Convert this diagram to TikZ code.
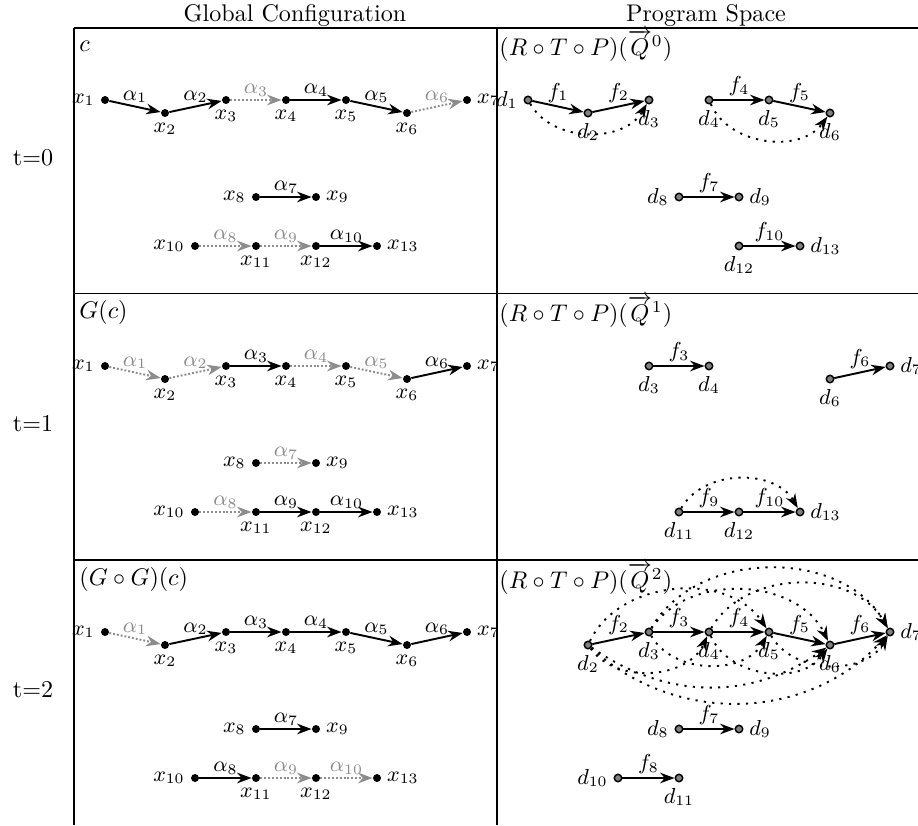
\documentclass[tikz,border=0pt]{standalone}
\usepackage{amsmath}
\usetikzlibrary{arrows.meta}

\begin{document}
\begin{tikzpicture}[
  x=0.415pt, y=0.415pt,
  gdot/.style={circle,fill=black,inner sep=0pt,minimum size=3.3pt},
  pdot/.style={circle,draw=black,fill=gray,line width=0.6pt,inner sep=0pt,minimum size=3.1pt},
  every label/.style={font=\small,inner sep=2.2pt},
  flab/.style={above,font=\small,inner sep=1.2pt},
  live/.style={thick,-{Stealth[length=6pt,width=4.4pt]}},
  idle/.style={thick,black!45,dash pattern=on 0.8pt off 0.8pt,-{Stealth[length=6pt,width=4.4pt]}},
  comp/.style={thick,dash pattern=on 0.9pt off 2.6pt,-{Stealth[length=6pt,width=4.4pt]}},
  rule/.style={line width=0.6pt},
  cell/.style={anchor=base west,inner sep=0pt}
]
  \useasboundingbox (0,0) rectangle (918,-825);

  \draw[rule] (74,-28) -- (918,-28);
  \draw[rule] (74,-293.5) -- (918,-293.5);
  \draw[rule] (74,-560) -- (918,-560);
  \draw[rule] (74,-28) -- (74,-825);
  \draw[rule] (497,-28) -- (497,-825);

  \node[anchor=base] (global-head) at (295,-21.5) {Global Configuration};
  \node[anchor=base] (program-head) at (706,-21.5) {Program Space};

  \node[cell] (c0-label) at (79,-51) {$c$};
  \node[cell] (c1-label) at (79,-318) {$G(c)$};
  \node[cell] (c2-label) at (79,-585) {$(G\circ G)(c)$};
  \node[cell] (q0-label) at (499,-55) {$(R\circ T\circ P)(\overrightarrow{Q}^0)$};
  \node[cell] (q1-label) at (499,-321) {$(R\circ T\circ P)(\overrightarrow{Q}^1)$};
  \node[cell] (q2-label) at (499,-588) {$(R\circ T\circ P)(\overrightarrow{Q}^2)$};

  \foreach \r in {0,1,2}{
    \node (t-\r) at (33,{-158-266*\r}) {t=\r};
    \foreach \i/\px/\py/\side in {1/105/100/left,2/165/113/below,3/226/100/below,
        4/286/100/below,5/346/100/below,6/407/113/below,7/467/100/right,
        8/256/197/left,9/316/197/right,10/195/246/left,11/256/246/below,
        12/316/246/below,13/377/246/right}{
      \coordinate (p\r-\i) at ({\px+423},{-\py-266*\r});
      \node[gdot,label=\side:$x_{\i}$] (x\r-\i) at (\px,{-\py-266*\r}) {};
    }
  }

  \foreach \a/\b/\k/\s in {1/2/1/live,2/3/2/live,3/4/3/idle,4/5/4/live,5/6/5/live,
      6/7/6/idle,8/9/7/live,10/11/8/idle,11/12/9/idle,12/13/10/live}
    \draw[\s] (x0-\a) -- node[flab]{$\alpha_{\k}$} (x0-\b);
  \foreach \a/\b/\k/\s in {1/2/1/idle,2/3/2/idle,3/4/3/live,4/5/4/idle,5/6/5/idle,
      6/7/6/live,8/9/7/idle,10/11/8/idle,11/12/9/live,12/13/10/live}
    \draw[\s] (x1-\a) -- node[flab]{$\alpha_{\k}$} (x1-\b);
  \foreach \a/\b/\k/\s in {1/2/1/idle,2/3/2/live,3/4/3/live,4/5/4/live,5/6/5/live,
      6/7/6/live,8/9/7/live,10/11/8/live,11/12/9/idle,12/13/10/idle}
    \draw[\s] (x2-\a) -- node[flab]{$\alpha_{\k}$} (x2-\b);

  \foreach \i/\side in {1/left,2/below,3/below,4/below,5/below,6/below,8/left,
      9/right,12/below,13/right}
    \node[pdot,label=\side:$d_{\i}$] (d0-\i) at (p0-\i) {};
  \foreach \i/\side in {3/below,4/below,6/below,7/right,11/below,12/below,13/right}
    \node[pdot,label=\side:$d_{\i}$] (d1-\i) at (p1-\i) {};
  \foreach \i/\side in {2/below,3/below,4/below,5/below,6/below,7/right,8/left,
      9/right,10/left,11/below}
    \node[pdot,label=\side:$d_{\i}$] (d2-\i) at (p2-\i) {};

  \foreach \a/\b/\k in {1/2/1,2/3/2,4/5/4,5/6/5,8/9/7,12/13/10}
    \draw[live] (d0-\a) -- node[flab]{$f_{\k}$} (d0-\b);
  \draw[comp] (d0-1) to[bend right=60] (d0-3);
  \draw[comp] (d0-4) to[bend right=60] (d0-6);

  \foreach \a/\b/\k in {3/4/3,6/7/6,11/12/9,12/13/10}
    \draw[live] (d1-\a) -- node[flab]{$f_{\k}$} (d1-\b);
  \draw[comp] (d1-11) to[bend left=60] (d1-13);

  \foreach \a/\b/\k in {2/3/2,3/4/3,4/5/4,5/6/5,6/7/6,8/9/7,10/11/8}
    \draw[live] (d2-\a) -- node[flab]{$f_{\k}$} (d2-\b);
  \foreach \a/\b in {2/5,3/6,4/7,3/7}
    \draw[comp] (d2-\a) to[bend left=60] (d2-\b);
  \foreach \a/\b in {2/4,3/5,4/6,5/7}
    \draw[comp] (d2-\a) to[bend right=60] (d2-\b);
  \draw[comp] (d2-2) to[bend right=35] (d2-6);
  \draw[comp] (d2-2) to[bend right=45] (d2-7);
\end{tikzpicture}
\end{document}
